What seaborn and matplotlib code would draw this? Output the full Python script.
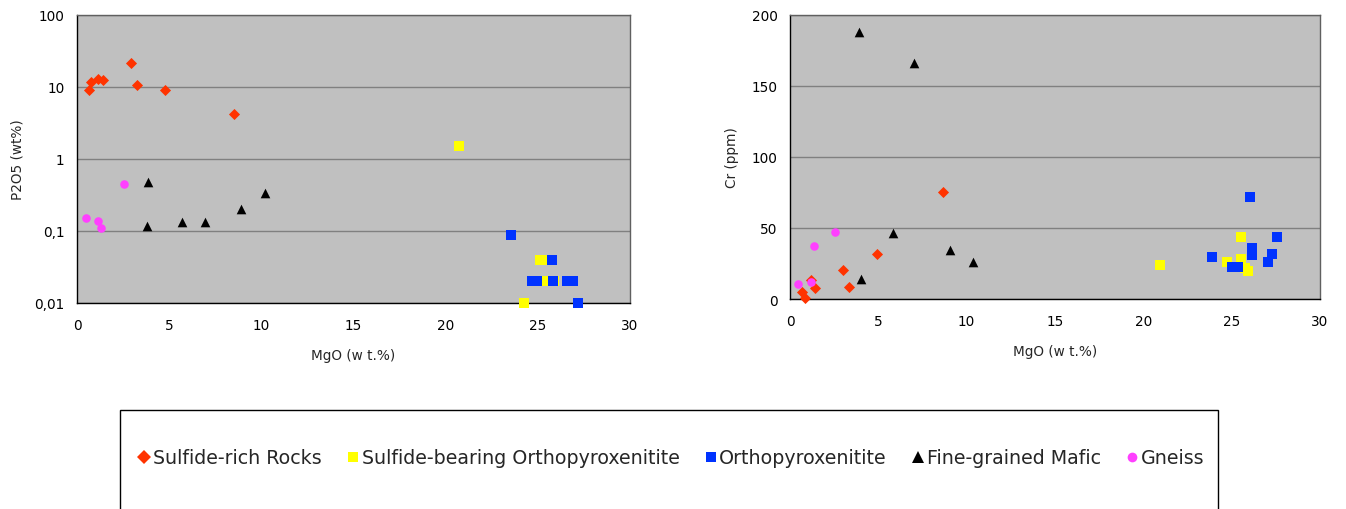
import matplotlib
matplotlib.use("Agg")
import matplotlib.pyplot as plt
from matplotlib.lines import Line2D
from matplotlib.patches import Rectangle
from matplotlib.ticker import NullLocator
import pandas as pd
import seaborn as sns

sns.set_style("white")
plt.rcParams["font.family"] = ["DejaVu Sans"]

# Rock groups and their symbols
GROUPS = ["Sulfide-rich Rocks", "Sulfide-bearing Orthopyroxenitite",
          "Orthopyroxenitite", "Fine-grained Mafic", "Gneiss"]
COLORS = ["#FF3300", "#FFFF00", "#0033FF", "#000000", "#FF40FF"]
MARKERS = ["D", "s", "s", "^", "o"]
SIZES = [32, 42, 42, 48, 38]

# MgO (wt.%) vs P2O5 (wt%)
sr_mgo_p = [0.65, 0.75, 1.12, 1.43, 2.93, 3.26, 4.77, 8.50]
sr_p2o5 = [9.0, 11.9, 12.9, 12.4, 21.3, 10.8, 9.1, 4.2]
sb_mgo_p = [20.71, 24.24, 25.10, 25.30, 25.39, 25.90]
sb_p2o5 = [1.5, 0.01, 0.04, 0.04, 0.02, 0.02]
op_mgo_p = [23.53, 24.70, 24.95, 25.76, 25.83, 26.60, 26.90, 27.20]
op_p2o5 = [0.088, 0.02, 0.02, 0.04, 0.02, 0.02, 0.02, 0.01]
fm_mgo_p = [3.87, 3.80, 5.71, 6.93, 8.90, 10.22]
fm_p2o5 = [0.48, 0.117, 0.135, 0.135, 0.20, 0.334]
gn_mgo_p = [0.47, 1.16, 1.30, 2.53]
gn_p2o5 = [0.152, 0.139, 0.111, 0.45]

# MgO (wt.%) vs Cr (ppm)
sr_mgo_c = [0.66, 0.83, 1.17, 1.42, 3.00, 3.32, 4.90, 8.66]
sr_cr = [5.1, 0.9, 13.4, 8.0, 20.6, 8.2, 31.9, 75.5]
sb_mgo_c = [20.97, 24.73, 25.55, 25.55, 25.78, 25.91]
sb_cr = [24.1, 26.4, 43.8, 28.1, 22.0, 19.9]
op_mgo_c = [23.88, 25.03, 25.35, 26.05, 26.14, 26.14, 27.04, 27.31, 27.55]
op_cr = [29.4, 22.2, 22.2, 72.0, 35.9, 31.0, 26.2, 31.4, 43.8]
fm_mgo_c = [3.92, 7.00, 5.83, 9.08, 10.34, 4.02]
fm_cr = [188.3, 166.5, 46.2, 34.7, 25.8, 14.1]
gn_mgo_c = [0.45, 1.21, 1.38, 2.55]
gn_cr = [10.6, 11.7, 37.5, 46.9]

X_TICKS = [0, 5, 10, 15, 20, 25, 30]
P_TICKS = [0.01, 0.1, 1, 10, 100]
P_LABELS = ["0,01", "0,1", "1", "10", "100"]
CR_TICKS = [0, 50, 100, 150, 200]

FS = 9.8


def frame(group_xy, col):
    rows = []
    for g, (xs, ys) in zip(GROUPS, group_xy):
        for x, y in zip(xs, ys):
            rows.append({"group": g, "MgO": x, col: y})
    return pd.DataFrame(rows)


df_p = frame([(sr_mgo_p, sr_p2o5), (sb_mgo_p, sb_p2o5), (op_mgo_p, op_p2o5),
              (fm_mgo_p, fm_p2o5), (gn_mgo_p, gn_p2o5)], "P2O5")
df_c = frame([(sr_mgo_c, sr_cr), (sb_mgo_c, sb_cr), (op_mgo_c, op_cr),
              (fm_mgo_c, fm_cr), (gn_mgo_c, gn_cr)], "Cr")

W, H = 1346, 510
fig = plt.figure(figsize=(W / 100, H / 100), dpi=100)


def px_axes(x0, x1, y0, y1):
    return fig.add_axes([x0 / W, 1 - y1 / H, (x1 - x0) / W, (y1 - y0) / H])


ax1 = px_axes(77, 630, 16, 304)
ax2 = px_axes(790, 1320, 16, 300)


def draw(ax, df, col):
    for g, c, m, s in zip(GROUPS, COLORS, MARKERS, SIZES):
        sub = df[df["group"] == g]
        sns.scatterplot(data=sub, x="MgO", y=col, ax=ax, marker=m, s=s,
                        color=c, linewidth=0, clip_on=False, legend=False,
                        zorder=3)


def style(ax):
    ax.set_facecolor("#C0C0C0")
    ax.set_axisbelow(True)
    ax.grid(axis="y", color="#808080", linewidth=1)
    ax.grid(axis="x", visible=False)
    for side in ("left", "bottom"):
        ax.spines[side].set_color("black")
        ax.spines[side].set_linewidth(1)
    for side in ("top", "right"):
        ax.spines[side].set_color("#606060")
        ax.spines[side].set_linewidth(1)
    ax.set_xlim(0, 30)
    ax.set_xticks(X_TICKS)
    ax.set_xticklabels([str(t) for t in X_TICKS])
    ax.tick_params(axis="both", direction="out", length=4, width=1,
                   color="black", labelsize=FS, labelcolor="black")
    ax.tick_params(axis="x", pad=7)
    ax.tick_params(axis="y", pad=5)
    ax.set_xlabel("MgO (w t.%)", fontsize=FS, labelpad=11)


draw(ax1, df_p, "P2O5")
ax1.set_yscale("log")
style(ax1)
ax1.set_ylim(0.01, 100)
ax1.set_yticks(P_TICKS)
ax1.set_yticklabels(P_LABELS)
ax1.yaxis.set_minor_locator(NullLocator())
ax1.set_ylabel("P2O5 (wt%)", fontsize=FS, labelpad=7)

draw(ax2, df_c, "Cr")
style(ax2)
ax2.set_ylim(0, 200)
ax2.set_yticks(CR_TICKS)
ax2.set_yticklabels([str(t) for t in CR_TICKS])
ax2.set_ylabel("Cr (ppm)", fontsize=FS, labelpad=9)

# Legend box along the bottom edge
fig.patches.append(Rectangle((120 / W, -0.05), (1218 - 120) / W, 1 - 411 / H + 0.05,
                             transform=fig.transFigure, facecolor="white",
                             edgecolor="black", linewidth=1, zorder=0))

handles = [Line2D([], [], linestyle="none", marker=m, color=c,
                  markersize=ms, markeredgewidth=0)
           for c, m, ms in zip(COLORS, MARKERS, [7, 7, 7, 8, 7])]
fig.legend(handles, GROUPS, loc="center", bbox_to_anchor=(672 / W, 1 - 459 / H),
           ncol=5, frameon=False, fontsize=13.7, handlelength=0.5,
           handletextpad=0.2, columnspacing=1.4, borderpad=0)

fig.savefig("out.png", dpi=100)
